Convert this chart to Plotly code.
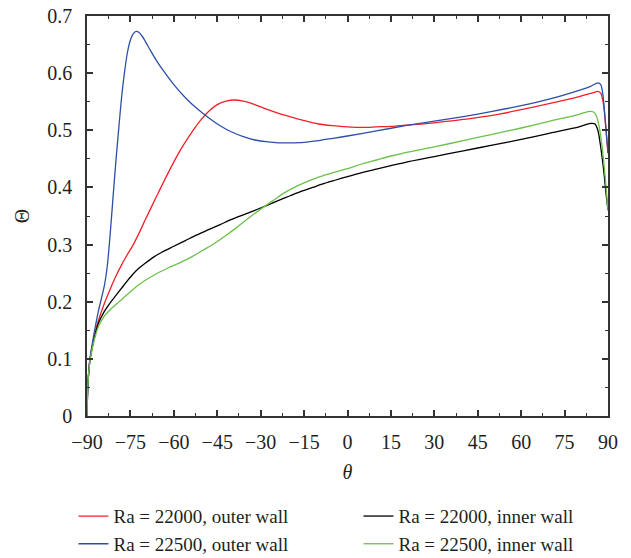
import plotly.graph_objects as go

# Red: Ra = 22000, outer wall
theta_r = [-90, -89.8, -89.5, -89, -88, -87, -86, -84, -82, -80, -78, -76, -74, -72, -70, -66, -62, -58, -54,
           -51, -48, -45, -42, -39, -36, -32, -28, -24, -20, -15, -10, -5, 0, 5, 10, 15, 20, 30, 40, 50,
           60, 70, 80, 85, 86.5, 87.5, 88.3, 89, 89.5, 90]
val_r = [0.0, 0.04, 0.07, 0.097, 0.127, 0.15, 0.168, 0.197, 0.222, 0.245, 0.265, 0.283, 0.30, 0.32, 0.342,
         0.384, 0.425, 0.463, 0.495, 0.516, 0.533, 0.545, 0.551, 0.553, 0.551, 0.545, 0.537, 0.530,
         0.524, 0.517, 0.511, 0.508, 0.506, 0.505, 0.506, 0.507, 0.509, 0.513, 0.519, 0.526, 0.536, 0.547,
         0.559, 0.566, 0.568, 0.565, 0.55, 0.52, 0.49, 0.46]

# Blue: Ra = 22500, outer wall
theta_b = [-90, -89.8, -89.5, -89, -88, -87, -86, -84, -83, -82, -81, -80, -79, -78, -77, -76, -75, -74, -73,
           -72, -71, -70, -68, -66, -63, -60, -56, -52, -48, -44, -40, -36, -32, -28, -24, -20, -15, -10,
           -5, 0, 10, 20, 30, 40, 50, 60, 70, 80, 84, 86.5, 87.5, 88.3, 89, 89.5, 90]
val_b = [0.0, 0.04, 0.07, 0.1, 0.132, 0.16, 0.185, 0.228, 0.262, 0.318, 0.383, 0.447, 0.505, 0.56, 0.603,
         0.637, 0.658, 0.669, 0.673, 0.671, 0.665, 0.657, 0.639, 0.622, 0.600, 0.580, 0.557, 0.538,
         0.522, 0.508, 0.497, 0.489, 0.483, 0.480, 0.478, 0.478, 0.479, 0.482, 0.486, 0.490, 0.499, 0.508,
         0.516, 0.524, 0.533, 0.543, 0.555, 0.570, 0.577, 0.583, 0.580, 0.56, 0.52, 0.49, 0.46]

# Black: Ra = 22000, inner wall
theta_k = [-90, -89.8, -89.5, -89, -88, -87, -86, -84, -82, -80, -78, -76, -74, -72, -70, -67, -64, -60, -56,
           -52, -48, -44, -40, -36, -32, -28, -24, -20, -16, -12, -8, -4, 0, 5, 10, 15, 20, 30, 40, 50, 60, 70,
           80, 84, 85.5, 86.5, 87.5, 88.5, 89.3, 90]
val_k = [0.0, 0.04, 0.07, 0.097, 0.125, 0.146, 0.163, 0.183, 0.198, 0.211, 0.224, 0.237, 0.249, 0.259, 0.267,
         0.278, 0.287, 0.297, 0.307, 0.317, 0.326, 0.335, 0.344, 0.352, 0.360, 0.368, 0.377, 0.385, 0.393,
         0.400, 0.407, 0.413, 0.419, 0.426, 0.432, 0.438, 0.444, 0.454, 0.464, 0.474, 0.484, 0.495, 0.506,
         0.512, 0.511, 0.50, 0.47, 0.43, 0.39, 0.36]

# Green: Ra = 22500, inner wall
theta_g = [-90, -89.8, -89.5, -89, -88, -87, -86, -84, -82, -80, -78, -76, -74, -72, -70, -66, -62, -58, -54,
           -50, -46, -42, -38, -34, -30, -26, -22, -18, -14, -10, -5, 0, 5, 10, 15, 20, 30, 40, 50, 60, 70, 80,
           83.5, 85, 86, 87, 88, 89, 90]
val_g = [0.0, 0.04, 0.07, 0.095, 0.122, 0.142, 0.157, 0.175, 0.186, 0.195, 0.204, 0.213, 0.222, 0.230, 0.237,
         0.249, 0.259, 0.268, 0.278, 0.290, 0.302, 0.316, 0.331, 0.347, 0.362, 0.376, 0.390, 0.401, 0.410,
         0.418, 0.426, 0.433, 0.441, 0.448, 0.455, 0.461, 0.471, 0.482, 0.493, 0.504, 0.516, 0.528, 0.533,
         0.532, 0.525, 0.505, 0.47, 0.42, 0.36]

x_ticks = [-90, -75, -60, -45, -30, -15, 0, 15, 30, 45, 60, 75, 90]
y_ticks = [0, 0.1, 0.2, 0.3, 0.4, 0.5, 0.6, 0.7]

FONT = "Liberation Serif"
TXT = "#231f20"

fig = go.Figure()
series = [
    (theta_r, val_r, "Ra = 22000, outer wall", "#f0202a"),
    (theta_k, val_k, "Ra = 22000, inner wall", "#000000"),
    (theta_b, val_b, "Ra = 22500, outer wall", "#2d50a6"),
    (theta_g, val_g, "Ra = 22500, inner wall", "#6cc04a"),
]
for x, y, name, c in series:
    fig.add_trace(go.Scatter(x=x, y=y, mode="lines", name=name,
                             line=dict(color=c, width=1.3, shape="spline", smoothing=0.8)))

axis_common = dict(
    showgrid=False, zeroline=False, showline=True, linecolor="#333333", linewidth=1.5,
    mirror="ticks", ticks="inside", ticklen=6, tickwidth=1.5, tickcolor="#333333",
    tickfont=dict(family=FONT, size=20, color=TXT), automargin=False,
)

fig.update_xaxes(range=[-90, 90], tickvals=x_ticks, ticktext=[("\u2212" + str(-v)) if v < 0 else str(v) for v in x_ticks],
                 minor=dict(ticks="inside", ticklen=3.5, tickwidth=1.2, tickcolor="#333333", dtick=7.5, tick0=-90),
                 ticklabelstandoff=7,
                 title=dict(text="<i>θ</i>", font=dict(family=FONT, size=20, color=TXT), standoff=13),
                 **axis_common)
fig.update_yaxes(range=[0, 0.7], tickvals=y_ticks, ticktext=["0", "0.1", "0.2", "0.3", "0.4", "0.5", "0.6", "0.7"],
                 minor=dict(ticks="inside", ticklen=3.5, tickwidth=1.2, tickcolor="#333333", dtick=0.05, tick0=0),
                 ticklabelstandoff=9,
                 title=dict(text="Θ", font=dict(family=FONT, size=20, color=TXT), standoff=12),
                 **axis_common)

fig.update_layout(
    width=631, height=558,
    margin=dict(l=87, r=23, t=16, b=142, autoexpand=False),
    plot_bgcolor="white", paper_bgcolor="white",
    font=dict(family=FONT, size=20, color=TXT),
    legend=dict(orientation="h", x=-0.026, xanchor="left", y=-0.203, yanchor="top",
                entrywidth=240, font=dict(family=FONT, size=19, color=TXT),
                bgcolor="rgba(0,0,0,0)", tracegroupgap=0, itemwidth=30),
)

fig.write_html("out.html")
